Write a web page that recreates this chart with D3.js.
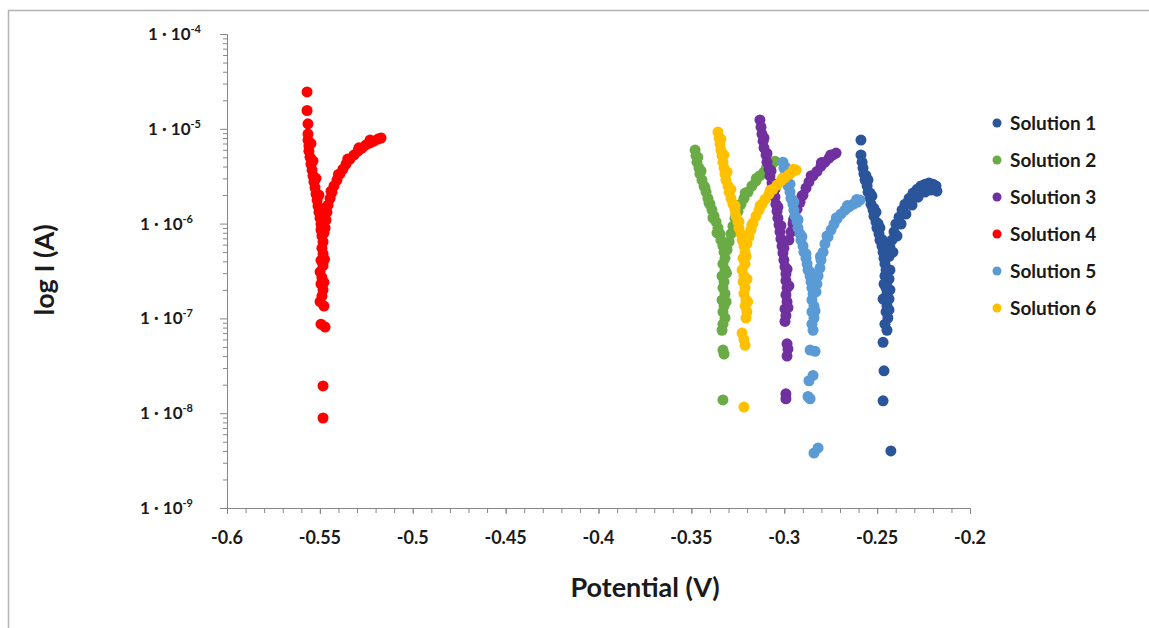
<!DOCTYPE html>
<html>
<head>
<meta charset="utf-8">
<script src="https://cdn.jsdelivr.net/npm/d3@7"></script>
<style>
  body { margin: 0; background: #fff; }
  svg { display: block; font-family: Lato, "Open Sans", sans-serif; }
  .axis path, .axis line { stroke: #868686; }
</style>
</head>
<body>
<div id="plot"></div>
<script>
// potential (V), current (A)
const solution1 = [
    [-0.2587, 7.6e-6], [-0.2587, 5.3e-6],
    [-0.2581, 4.45e-6], [-0.2576, 3.85e-6], [-0.2571, 3.35e-6], [-0.2565, 2.88e-6], [-0.2554, 2.5e-6],
    [-0.2549, 2.15e-6], [-0.2538, 1.85e-6], [-0.2533, 1.6e-6], [-0.2522, 1.39e-6], [-0.2517, 1.2e-6],
    [-0.2506, 1.04e-6], [-0.2501, 9.0e-7], [-0.2490, 7.8e-7], [-0.2485, 6.7e-7], [-0.2474, 5.8e-7],
    [-0.2468, 5.0e-7], [-0.2463, 4.3e-7], [-0.2458, 3.75e-7], [-0.2452, 3.24e-7], [-0.2458, 2.8e-7],
    [-0.2447, 2.43e-7], [-0.2452, 2.1e-7], [-0.2447, 1.82e-7], [-0.2458, 1.56e-7], [-0.2447, 1.35e-7],
    [-0.2452, 1.17e-7], [-0.2442, 1.01e-7], [-0.2458, 8.7e-8], [-0.2447, 7.5e-8],
    [-0.2549, 2.88e-6], [-0.2528, 1.95e-6], [-0.2506, 1.32e-6], [-0.2485, 9.0e-7], [-0.2463, 6.1e-7],
    [-0.2436, 4.5e-7], [-0.2431, 3.24e-7], [-0.2431, 2.0e-7], [-0.2436, 1.23e-7],
    [-0.2560, 3.2e-6], [-0.2538, 2.1e-6], [-0.2517, 1.45e-6], [-0.2495, 1.0e-6], [-0.2474, 6.8e-7],
    [-0.2452, 4.6e-7], [-0.2436, 2.6e-7], [-0.2463, 2.3e-7], [-0.2468, 1.6e-7], [-0.2436, 1.6e-7],
    [-0.2468, 5.6e-8], [-0.2463, 2.8e-8], [-0.2468, 1.35e-8], [-0.2426, 4.0e-9],
    [-0.2442, 4.5e-7], [-0.2431, 5.6e-7], [-0.2420, 6.7e-7], [-0.2409, 8.2e-7], [-0.2399, 9.9e-7],
    [-0.2382, 1.17e-6], [-0.2366, 1.39e-6], [-0.2350, 1.6e-6], [-0.2328, 1.85e-6], [-0.2307, 2.1e-6],
    [-0.2285, 2.3e-6], [-0.2264, 2.5e-6], [-0.2242, 2.6e-6], [-0.2221, 2.68e-6], [-0.2199, 2.6e-6],
    [-0.2183, 2.5e-6],
    [-0.2415, 5.0e-7], [-0.2393, 7.4e-7], [-0.2371, 9.9e-7], [-0.2345, 1.26e-6], [-0.2312, 1.57e-6],
    [-0.2280, 1.9e-6], [-0.2242, 2.15e-6], [-0.2210, 2.26e-6], [-0.2178, 2.2e-6]
];

const solution2 = [
    [-0.3480, 5.97e-6], [-0.3475, 5.2e-6], [-0.3470, 4.45e-6], [-0.3459, 3.85e-6], [-0.3454, 3.35e-6],
    [-0.3443, 2.88e-6], [-0.3432, 2.5e-6], [-0.3421, 2.15e-6], [-0.3411, 1.85e-6], [-0.3400, 1.6e-6],
    [-0.3389, 1.39e-6], [-0.3378, 1.2e-6], [-0.3367, 1.04e-6], [-0.3357, 9.0e-7], [-0.3346, 7.8e-7],
    [-0.3341, 6.7e-7], [-0.3330, 5.8e-7], [-0.3324, 5.0e-7], [-0.3319, 4.3e-7], [-0.3330, 3.75e-7],
    [-0.3319, 3.24e-7], [-0.3335, 2.8e-7], [-0.3324, 2.43e-7], [-0.3330, 2.1e-7], [-0.3319, 1.82e-7],
    [-0.3335, 1.56e-7], [-0.3324, 1.35e-7], [-0.3330, 1.17e-7], [-0.3319, 1.01e-7], [-0.3330, 8.7e-8],
    [-0.3335, 7.5e-8],
    [-0.3465, 5.0e-6], [-0.3448, 3.6e-6], [-0.3427, 2.4e-6], [-0.3405, 1.65e-6], [-0.3384, 1.15e-6],
    [-0.3362, 8.0e-7], [-0.3311, 3.0e-7], [-0.3313, 1.5e-7],
    [-0.3330, 4.64e-8], [-0.3324, 4.2e-8], [-0.3330, 1.38e-8],
    [-0.3308, 5.3e-7], [-0.3297, 6.4e-7], [-0.3287, 7.8e-7], [-0.3276, 9.4e-7], [-0.3265, 1.14e-6],
    [-0.3249, 1.35e-6], [-0.3233, 1.6e-6], [-0.3217, 1.85e-6], [-0.3195, 2.15e-6], [-0.3174, 2.5e-6],
    [-0.3152, 2.82e-6], [-0.3131, 3.2e-6], [-0.3109, 3.5e-6], [-0.3088, 3.85e-6], [-0.3066, 4.25e-6],
    [-0.3050, 4.55e-6],
    [-0.3260, 1.3e-6], [-0.3210, 2.1e-6], [-0.3150, 3.0e-6], [-0.3095, 3.9e-6]
];

const solution3 = [
    [-0.3131, 1.24e-5], [-0.3125, 1.04e-5], [-0.3120, 8.8e-6], [-0.3114, 7.4e-6], [-0.3109, 6.3e-6],
    [-0.3098, 5.3e-6], [-0.3093, 4.45e-6], [-0.3082, 3.77e-6], [-0.3077, 3.18e-6], [-0.3066, 2.68e-6],
    [-0.3061, 2.26e-6], [-0.3050, 1.9e-6], [-0.3045, 1.6e-6], [-0.3039, 1.35e-6], [-0.3034, 1.14e-6],
    [-0.3028, 9.7e-7], [-0.3023, 8.2e-7], [-0.3018, 6.9e-7], [-0.3012, 5.8e-7], [-0.3007, 4.9e-7],
    [-0.3002, 4.13e-7], [-0.2996, 3.5e-7], [-0.2991, 2.95e-7], [-0.2991, 2.5e-7], [-0.2985, 2.1e-7],
    [-0.2991, 1.77e-7], [-0.2985, 1.5e-7], [-0.2996, 1.26e-7], [-0.2991, 1.07e-7], [-0.2996, 9.3e-8],
    [-0.3109, 8.0e-6], [-0.3093, 5.5e-6], [-0.3071, 3.6e-6], [-0.3050, 2.3e-6], [-0.3034, 1.5e-6],
    [-0.3018, 9.5e-7], [-0.3002, 5.5e-7], [-0.2985, 3.3e-7], [-0.2975, 2.2e-7], [-0.2980, 1.3e-7],
    [-0.2985, 5.4e-8], [-0.2980, 4.75e-8], [-0.2985, 4.0e-8], [-0.2991, 1.6e-8], [-0.2991, 1.42e-8],
    [-0.2975, 6.7e-7], [-0.2964, 8.2e-7], [-0.2953, 9.9e-7], [-0.2942, 1.2e-6], [-0.2931, 1.42e-6],
    [-0.2915, 1.68e-6], [-0.2899, 2.0e-6], [-0.2883, 2.37e-6], [-0.2867, 2.75e-6], [-0.2846, 3.18e-6],
    [-0.2824, 3.55e-6], [-0.2802, 4.05e-6], [-0.2781, 4.45e-6], [-0.2759, 4.9e-6], [-0.2738, 5.3e-6],
    [-0.2721, 5.55e-6],
    [-0.2950, 1.1e-6], [-0.2905, 1.95e-6], [-0.2855, 3.2e-6], [-0.2800, 4.4e-6], [-0.2750, 5.3e-6]
];

const solution4 = [
    [-0.5569, 2.45e-5], [-0.5569, 1.56e-5], [-0.5564, 1.13e-5],
    [-0.5564, 8.8e-6], [-0.5564, 7.6e-6], [-0.5559, 6.6e-6], [-0.5559, 5.8e-6], [-0.5553, 5.0e-6],
    [-0.5548, 4.25e-6], [-0.5542, 3.67e-6], [-0.5537, 3.2e-6], [-0.5532, 2.75e-6], [-0.5526, 2.4e-6],
    [-0.5521, 2.05e-6], [-0.5515, 1.77e-6], [-0.5510, 1.53e-6], [-0.5505, 1.32e-6], [-0.5499, 1.14e-6],
    [-0.5494, 9.9e-7], [-0.5494, 8.6e-7], [-0.5489, 7.4e-7], [-0.5483, 6.4e-7], [-0.5489, 5.5e-7],
    [-0.5483, 4.8e-7], [-0.5494, 4.1e-7], [-0.5483, 3.6e-7], [-0.5499, 3.1e-7], [-0.5489, 2.7e-7],
    [-0.5494, 2.3e-7], [-0.5483, 2.0e-7], [-0.5489, 1.72e-7], [-0.5499, 1.5e-7], [-0.5478, 1.35e-7],
    [-0.5548, 7.0e-6], [-0.5537, 4.6e-6], [-0.5521, 3.0e-6], [-0.5505, 2.0e-6], [-0.5489, 1.3e-6],
    [-0.5478, 8.0e-7], [-0.5475, 4.2e-7], [-0.5478, 2.4e-7],
    [-0.5494, 8.7e-8], [-0.5472, 8.1e-8], [-0.5483, 1.94e-8], [-0.5483, 8.9e-9],
    [-0.5472, 9.0e-7], [-0.5467, 1.09e-6], [-0.5462, 1.32e-6], [-0.5456, 1.57e-6], [-0.5445, 1.85e-6],
    [-0.5435, 2.14e-6], [-0.5424, 2.5e-6], [-0.5408, 2.88e-6], [-0.5392, 3.35e-6], [-0.5376, 3.75e-6],
    [-0.5359, 4.25e-6], [-0.5338, 4.8e-6], [-0.5316, 5.3e-6], [-0.5295, 5.8e-6], [-0.5273, 6.25e-6],
    [-0.5252, 6.75e-6], [-0.5230, 7.1e-6], [-0.5209, 7.4e-6], [-0.5187, 7.8e-6], [-0.5171, 8.0e-6],
    [-0.5440, 2.2e-6], [-0.5400, 3.3e-6], [-0.5350, 4.8e-6], [-0.5290, 6.3e-6], [-0.5230, 7.6e-6]
];

const solution5 = [
    [-0.3007, 4.45e-6], [-0.3002, 3.85e-6], [-0.2991, 3.35e-6], [-0.2985, 2.88e-6], [-0.2980, 2.5e-6],
    [-0.2969, 2.15e-6], [-0.2964, 1.85e-6], [-0.2953, 1.6e-6], [-0.2948, 1.39e-6], [-0.2942, 1.2e-6],
    [-0.2931, 1.04e-6], [-0.2926, 9.0e-7], [-0.2915, 7.8e-7], [-0.2910, 6.7e-7], [-0.2899, 5.8e-7],
    [-0.2894, 5.0e-7], [-0.2883, 4.3e-7], [-0.2877, 3.75e-7], [-0.2872, 3.24e-7], [-0.2861, 2.8e-7],
    [-0.2856, 2.43e-7], [-0.2851, 2.1e-7], [-0.2845, 1.82e-7], [-0.2851, 1.56e-7], [-0.2840, 1.35e-7],
    [-0.2851, 1.17e-7], [-0.2840, 1.01e-7], [-0.2851, 8.7e-8], [-0.2845, 7.5e-8],
    [-0.2991, 3.9e-6], [-0.2969, 2.6e-6], [-0.2948, 1.7e-6], [-0.2926, 1.1e-6], [-0.2905, 7.3e-7],
    [-0.2883, 4.8e-7], [-0.2861, 3.1e-7], [-0.2840, 2.0e-7], [-0.2834, 1.2e-7],
    [-0.2861, 4.64e-8], [-0.2834, 4.5e-8], [-0.2845, 2.5e-8], [-0.2867, 2.2e-8], [-0.2872, 1.5e-8],
    [-0.2861, 1.42e-8], [-0.2840, 3.8e-9], [-0.2818, 4.3e-9],
    [-0.2829, 1.9e-7], [-0.2824, 2.3e-7], [-0.2818, 2.8e-7], [-0.2808, 3.4e-7], [-0.2802, 4.13e-7],
    [-0.2791, 5.0e-7], [-0.2781, 6.1e-7], [-0.2764, 7.25e-7], [-0.2748, 8.6e-7], [-0.2732, 9.9e-7],
    [-0.2716, 1.12e-6], [-0.2695, 1.26e-6], [-0.2673, 1.39e-6], [-0.2651, 1.5e-6], [-0.2630, 1.6e-6],
    [-0.2608, 1.68e-6], [-0.2592, 1.77e-6],
    [-0.2805, 4.5e-7], [-0.2770, 7.4e-7], [-0.2720, 1.15e-6], [-0.2660, 1.55e-6], [-0.2610, 1.8e-6]
];

const solution6 = [
    [-0.3357, 9.25e-6], [-0.3351, 8.0e-6], [-0.3346, 6.9e-6], [-0.3341, 5.97e-6], [-0.3335, 5.2e-6],
    [-0.3330, 4.45e-6], [-0.3324, 3.85e-6], [-0.3319, 3.35e-6], [-0.3314, 2.88e-6], [-0.3303, 2.5e-6],
    [-0.3297, 2.15e-6], [-0.3287, 1.85e-6], [-0.3276, 1.6e-6], [-0.3265, 1.39e-6], [-0.3260, 1.2e-6],
    [-0.3249, 1.04e-6], [-0.3244, 9.0e-7], [-0.3233, 7.8e-7], [-0.3227, 6.7e-7], [-0.3217, 5.8e-7],
    [-0.3211, 5.0e-7],
    [-0.3341, 7.8e-6], [-0.3325, 5.3e-6], [-0.3308, 3.5e-6], [-0.3287, 2.3e-6], [-0.3265, 1.55e-6],
    [-0.3244, 1.05e-6], [-0.3222, 7.0e-7], [-0.3206, 4.5e-7], [-0.3200, 2.6e-7], [-0.3197, 1.5e-7],
    [-0.3222, 4.3e-7], [-0.3211, 3.75e-7], [-0.3227, 3.24e-7], [-0.3217, 2.8e-7], [-0.3222, 2.43e-7],
    [-0.3211, 2.1e-7], [-0.3217, 1.82e-7], [-0.3206, 1.56e-7], [-0.3211, 1.35e-7], [-0.3201, 1.17e-7],
    [-0.3206, 1.01e-7],
    [-0.3227, 7.0e-8], [-0.3217, 6.0e-8], [-0.3211, 5.2e-8], [-0.3217, 1.16e-8],
    [-0.3201, 6.1e-7], [-0.3190, 7.25e-7], [-0.3179, 8.6e-7], [-0.3168, 1.02e-6], [-0.3152, 1.2e-6],
    [-0.3136, 1.39e-6], [-0.3120, 1.6e-6], [-0.3104, 1.8e-6], [-0.3082, 2.05e-6], [-0.3061, 2.3e-6],
    [-0.3039, 2.55e-6], [-0.3017, 2.82e-6], [-0.2996, 3.05e-6], [-0.2974, 3.3e-6], [-0.2953, 3.55e-6],
    [-0.2936, 3.67e-6],
    [-0.3175, 9.6e-7], [-0.3130, 1.55e-6], [-0.3075, 2.25e-6], [-0.3010, 3.0e-6], [-0.2950, 3.75e-6]
];

const seriesNames = ["Solution 1", "Solution 2", "Solution 3", "Solution 4", "Solution 5", "Solution 6"];
const seriesColors = ["#2b559a", "#6aab46", "#7030a0", "#ff0000", "#5b9bd5", "#ffc000"];
const seriesData = [solution1, solution2, solution3, solution4, solution5, solution6];

const xTicks = [-0.6, -0.55, -0.5, -0.45, -0.4, -0.35, -0.3, -0.25, -0.2];
const xTickLabels = ["-0.6", "-0.55", "-0.5", "-0.45", "-0.4", "-0.35", "-0.3", "-0.25", "-0.2"];
const yTicks = [1e-9, 1e-8, 1e-7, 1e-6, 1e-5, 1e-4];
const yTickExponents = ["-9", "-8", "-7", "-6", "-5", "-4"];

const width = 1149, height = 628;

let svg = d3.select("#plot")
    .append("svg")
    .attr("width", width)
    .attr("height", height);

// frame of the chart area
svg.append("rect")
    .attr("x", 8.5)
    .attr("y", 10.5)
    .attr("width", width + 10)
    .attr("height", height + 10)
    .attr("fill", "none")
    .attr("stroke", "#b3b3b3")
    .attr("stroke-width", 1.5);

const xScale = d3.scaleLinear()
    .domain([-0.6, -0.2])
    .range([227, 970]);

const yScale = d3.scaleLog()
    .domain([1e-9, 1e-4])
    .range([508, 34]);

// minor ticks
const xMinor = d3.range(0, 41).map(i => -0.6 + i * 0.01);
const yMinor = [];
for (let e = -9; e < -4; e++) {
    for (let m = 2; m < 10; m++) yMinor.push(m * Math.pow(10, e));
}

let axis = svg.append("g").attr("class", "axis");

axis.append("g")
    .attr("transform", `translate(0, ${yScale(1e-9)})`)
    .call(d3.axisBottom(xScale).tickValues(xMinor).tickSize(5).tickFormat(""));

axis.append("g")
    .attr("transform", `translate(0, ${yScale(1e-9)})`)
    .call(d3.axisBottom(xScale).tickValues(xTicks).tickSize(6).tickFormat(""));

axis.append("g")
    .attr("transform", `translate(${xScale(-0.6)}, 0)`)
    .call(d3.axisLeft(yScale).tickValues(yMinor).tickSize(4).tickFormat(""));

axis.append("g")
    .attr("transform", `translate(${xScale(-0.6)}, 0)`)
    .call(d3.axisLeft(yScale).tickValues(yTicks).tickSize(7).tickFormat(""));

axis.selectAll("path.domain").attr("stroke", "#868686");

// x tick labels
svg.append("g")
    .selectAll("text")
    .data(xTicks)
    .enter()
    .append("text")
    .attr("x", d => xScale(d))
    .attr("y", 544)
    .attr("text-anchor", "middle")
    .attr("font-size", "18px")
    .attr("font-weight", "bold")
    .attr("fill", "#1a1a1a")
    .text((d, i) => xTickLabels[i]);

// y tick labels: 1 · 10^n (the top two sit a little further right, as in the original)
let yLabels = svg.append("g")
    .selectAll("text")
    .data(yTicks)
    .enter()
    .append("text")
    .attr("x", d => d >= 1e-5 ? 201 : 193)
    .attr("y", d => yScale(d) + 6)
    .attr("text-anchor", "end")
    .attr("font-size", "17px")
    .attr("font-weight", "bold")
    .attr("fill", "#1a1a1a");

yLabels.append("tspan").text("1 \u00b7 10");
yLabels.append("tspan")
    .attr("dy", -7)
    .attr("font-size", "11px")
    .text((d, i) => yTickExponents[i]);

// axis titles
svg.append("text")
    .attr("x", 645)
    .attr("y", 597)
    .attr("text-anchor", "middle")
    .attr("font-size", "27px")
    .attr("font-weight", "bold")
    .attr("fill", "#1a1a1a")
    .text("Potential (V)");

svg.append("text")
    .attr("transform", "translate(54, 270) rotate(-90)")
    .attr("text-anchor", "middle")
    .attr("font-size", "27px")
    .attr("font-weight", "bold")
    .attr("fill", "#1a1a1a")
    .text("log I (A)");

// points, series 1 drawn first so later ones sit on top
let points = svg.append("g").attr("class", "points");

seriesData.forEach((series, i) => {
    points.append("g")
        .selectAll("circle")
        .data(series)
        .enter()
        .append("circle")
        .attr("cx", d => xScale(d[0]))
        .attr("cy", d => yScale(d[1]))
        .attr("r", 5.5)
        .attr("fill", seriesColors[i]);
});

// legend
let legend = svg.append("g")
    .selectAll("g")
    .data(seriesNames)
    .enter()
    .append("g")
    .attr("transform", (d, i) => `translate(997, ${123 + i * 37})`);

legend.append("circle")
    .attr("r", 4.5)
    .attr("fill", (d, i) => seriesColors[i]);

legend.append("text")
    .attr("x", 13)
    .attr("y", 7)
    .attr("font-size", "19px")
    .attr("font-weight", "bold")
    .attr("fill", "#1a1a1a")
    .text(d => d);
</script>
</body>
</html>
